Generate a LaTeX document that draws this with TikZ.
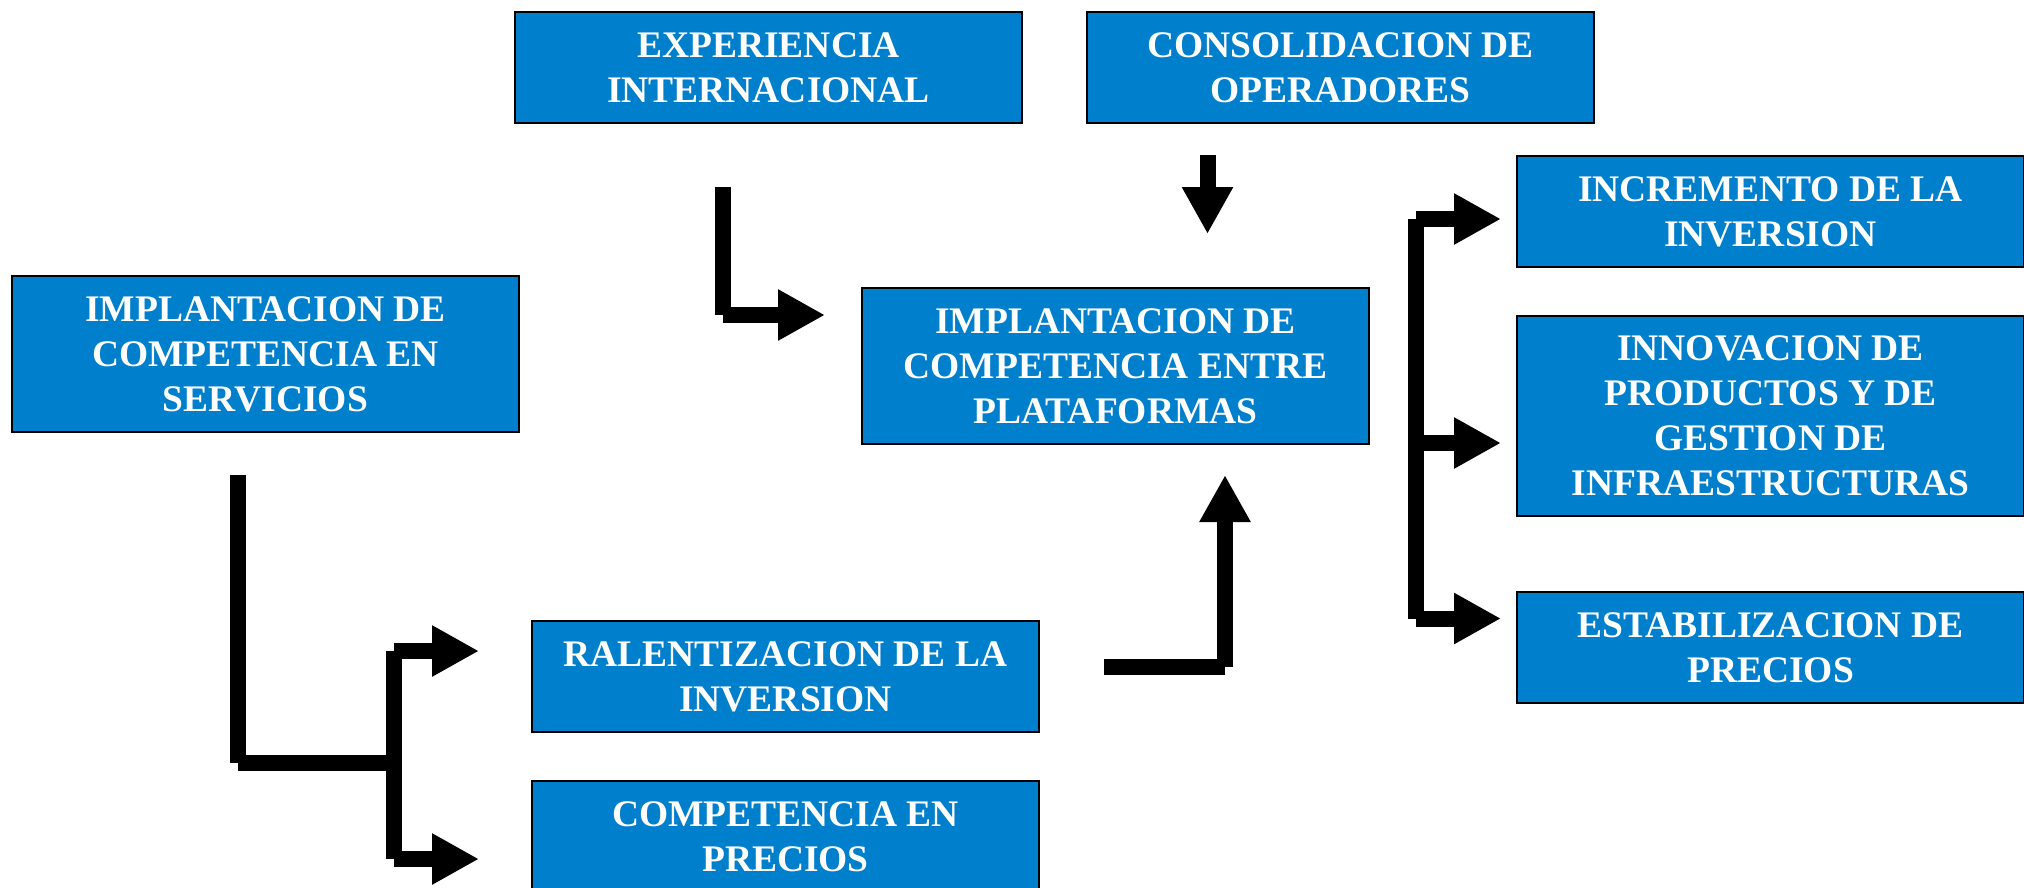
\documentclass[tikz,border=0pt]{standalone}
\usepackage{fontspec}
\setmainfont{Liberation Serif}
\usetikzlibrary{arrows.meta}
\definecolor{boxblue}{RGB}{0,128,204}
\tikzset{
  box/.style={draw=black, line width=2pt, fill=boxblue, text=white,
    font=\bfseries\fontsize{37.5}{45}\selectfont, align=center,
    inner sep=0pt, anchor=north west, minimum width=507pt},
  bar/.style={line width=16pt, line cap=butt, black},
  barh/.style={bar, -{Triangle[length=47pt, width=48pt]}}
}
\begin{document}
\begin{tikzpicture}[x=1pt, y=-1pt]
\useasboundingbox (0,0) rectangle (2024,887);
% boxes
\node[box, minimum height=111pt] (exp) at (514,11) {EXPERIENCIA\\INTERNACIONAL};
\node[box, minimum height=111pt] (con) at (1086,11) {CONSOLIDACION DE\\OPERADORES};
\node[box, minimum height=156pt] (ser) at (11,275) {IMPLANTACION DE\\COMPETENCIA EN\\SERVICIOS};
\node[box, minimum height=156pt] (pla) at (861,287) {IMPLANTACION DE\\COMPETENCIA ENTRE\\PLATAFORMAS};
\node[box, minimum height=111pt] (inc) at (1516,155) {INCREMENTO DE LA\\INVERSION};
\node[box, minimum height=200pt] (inn) at (1516,315) {INNOVACION DE\\PRODUCTOS Y DE\\GESTION DE\\INFRAESTRUCTURAS};
\node[box, minimum height=111pt] (est) at (1516,591) {ESTABILIZACION DE\\PRECIOS};
\node[box, minimum height=111pt] (ral) at (531,620) {RALENTIZACION DE LA\\INVERSION};
\node[box, minimum height=111pt] (pre) at (531,780) {COMPETENCIA EN\\PRECIOS};
% connector points
\coordinate (a1) at (722.5,187);
\coordinate (a2) at (722.5,315);
\coordinate (a3) at (825,315);
\coordinate (b1) at (1207.5,155);
\coordinate (b2) at (1207.5,234);
\coordinate (c1) at (237.5,475);
\coordinate (c2) at (237.5,763);
\coordinate (c3) at (393.5,763);
\coordinate (c4) at (393.5,651);
\coordinate (c5) at (393.5,859);
\coordinate (c6) at (479,651);
\coordinate (c7) at (479,859);
\coordinate (d1) at (1104,667);
\coordinate (d2) at (1225,667);
\coordinate (d3) at (1225,475);
\coordinate (e1) at (1416,219);
\coordinate (e2) at (1416,443);
\coordinate (e3) at (1416,618.5);
\coordinate (e4) at (1501,219);
\coordinate (e5) at (1501,443);
\coordinate (e6) at (1501,618.5);
% experiencia -> plataformas
\draw[bar] (a1) -- (a2);
\draw[barh] (a2) -- (a3);
% consolidacion -> plataformas
\draw[barh] (b1) -- (b2);
% servicios -> ralentizacion / precios
\draw[bar] (c1) -- (c2);
\draw[bar] (c2) -- (c3);
\draw[bar] (c4) -- (c5);
\draw[barh] (c4) -- (c6);
\draw[barh] (c5) -- (c7);
% ralentizacion -> plataformas
\draw[bar] (d1) -- (d2);
\draw[barh] (d2) -- (d3);
% plataformas -> right boxes
\draw[bar] (e1) -- (e3);
\draw[barh] (e1) -- (e4);
\draw[barh] (e2) -- (e5);
\draw[barh] (e3) -- (e6);
\end{tikzpicture}
\end{document}
